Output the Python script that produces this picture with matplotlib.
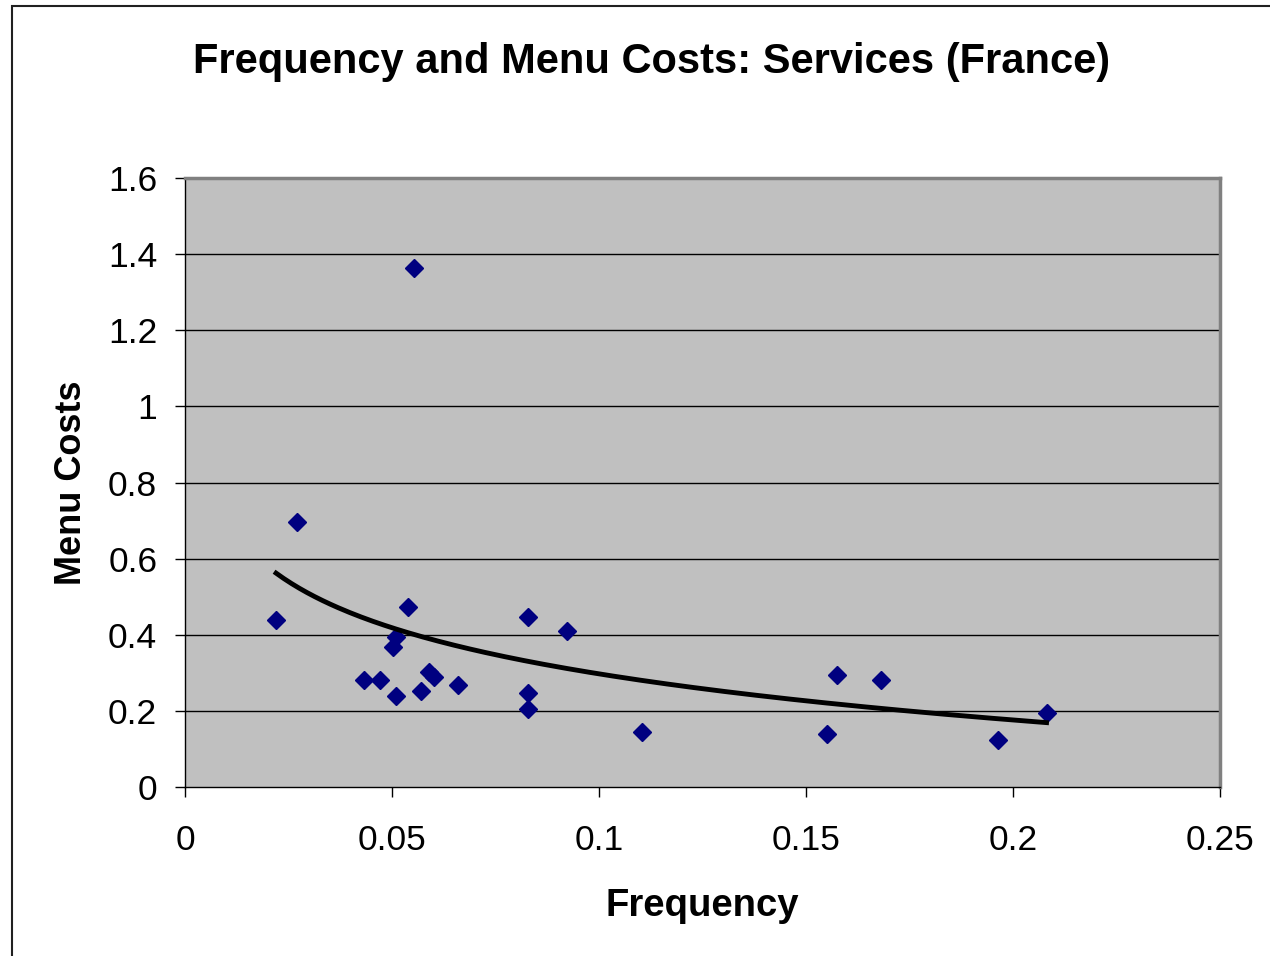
import numpy as np
import matplotlib.pyplot as plt
from matplotlib.patches import Rectangle

plt.rcParams['font.family'] = ['Liberation Sans', 'DejaVu Sans']

# Services sector, France: frequency of price changes vs estimated menu costs
frequency = [0.0270, 0.0220, 0.0539, 0.0509, 0.0502, 0.0433, 0.0471, 0.0509,
             0.0571, 0.0590, 0.0602, 0.0659, 0.0828, 0.0922, 0.0828, 0.0828,
             0.1104, 0.1574, 0.1680, 0.1550, 0.1963, 0.2081, 0.0553]
menu_costs = [0.695, 0.438, 0.472, 0.393, 0.368, 0.281, 0.281, 0.240,
              0.253, 0.303, 0.290, 0.268, 0.446, 0.411, 0.248, 0.205,
              0.1445, 0.294, 0.281, 0.138, 0.124, 0.194, 1.364]

x = np.array(frequency)
y = np.array(menu_costs)

# logarithmic trendline y = a + b*ln(x)
b, a = np.polyfit(np.log(x), y, 1)
xs = np.linspace(x.min(), x.max(), 200)
ys = a + b * np.log(xs)

fig = plt.figure(figsize=(12.7, 9.56), dpi=100)
ax = fig.add_axes([185 / 1270, 1 - 787 / 956, 1035 / 1270, 609 / 956])
ax.set_facecolor('#C0C0C0')

# outer chart border
fig.patches.append(Rectangle((12 / 1270, -0.05), 1.1, 1 - 6 / 956 + 0.05,
                             transform=fig.transFigure, fill=False,
                             edgecolor='#202020', linewidth=1.5))

for gy in [0.2, 0.4, 0.6, 0.8, 1.0, 1.2, 1.4]:
    ax.axhline(gy, color='black', linewidth=1.0, zorder=1)

ax.plot(x, y, linestyle='none', marker='D', markersize=9,
        color='#000080', zorder=3)
ax.plot(xs, ys, color='black', linewidth=3.5, zorder=4)

ax.set_xlim(0, 0.25)
ax.set_ylim(0, 1.6)
ax.set_xticks([0, 0.05, 0.1, 0.15, 0.2, 0.25])
ax.set_xticklabels(['0', '0.05', '0.1', '0.15', '0.2', '0.25'])
ax.set_yticks([0, 0.2, 0.4, 0.6, 0.8, 1, 1.2, 1.4, 1.6])
ax.set_yticklabels(['0', '0.2', '0.4', '0.6', '0.8', '1', '1.2', '1.4', '1.6'])
ax.tick_params(direction='out', length=7, width=1, labelsize=25.5)
ax.tick_params(axis='x', pad=20)
ax.tick_params(axis='y', pad=13)

for side in ['top', 'right']:
    ax.spines[side].set_color('#808080')
    ax.spines[side].set_linewidth(2.5)
for side in ['left', 'bottom']:
    ax.spines[side].set_color('black')
    ax.spines[side].set_linewidth(1)

ax.set_xlabel('Frequency', fontsize=27.5, fontweight='bold', labelpad=22)
ax.set_ylabel('Menu Costs', fontsize=26, fontweight='bold', labelpad=14)
fig.text(652 / 1270, 1 - 62 / 956, 'Frequency and Menu Costs: Services (France)',
         ha='center', va='center', fontsize=30, fontweight='bold')

plt.savefig('out.png', dpi=100)
